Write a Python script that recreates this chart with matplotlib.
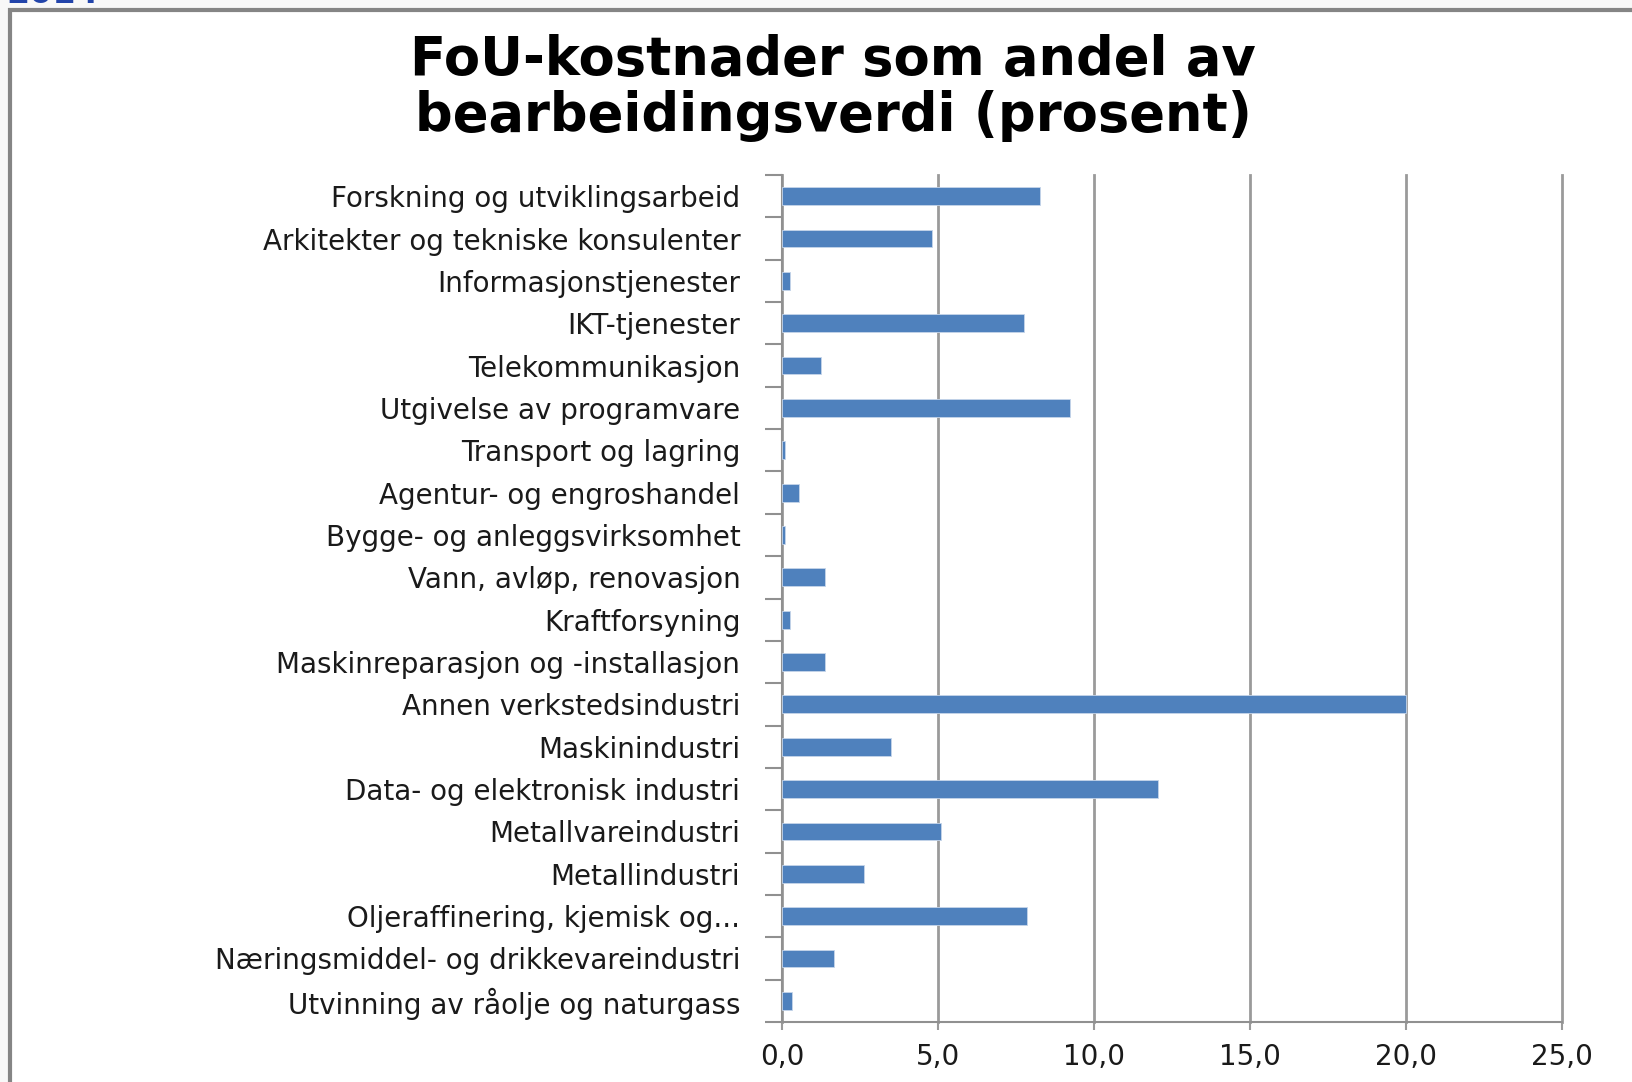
import matplotlib.pyplot as plt
import matplotlib.patches as patches

# categories listed top to bottom as in the chart
categories = [
    "Forskning og utviklingsarbeid",
    "Arkitekter og tekniske konsulenter",
    "Informasjonstjenester",
    "IKT-tjenester",
    "Telekommunikasjon",
    "Utgivelse av programvare",
    "Transport og lagring",
    "Agentur- og engroshandel",
    "Bygge- og anleggsvirksomhet",
    "Vann, avløp, renovasjon",
    "Kraftforsyning",
    "Maskinreparasjon og -installasjon",
    "Annen verkstedsindustri",
    "Maskinindustri",
    "Data- og elektronisk industri",
    "Metallvareindustri",
    "Metallindustri",
    "Oljeraffinering, kjemisk og...",
    "Næringsmiddel- og drikkevareindustri",
    "Utvinning av råolje og naturgass",
]
values = [8.26, 4.82, 0.25, 7.76, 1.24, 9.24, 0.11, 0.54, 0.11, 1.39,
          0.25, 1.39, 20.0, 3.48, 12.05, 5.1, 2.64, 7.84, 1.66, 0.32]
xticks = [0, 5, 10, 15, 20, 25]
xticklabels = ["0,0", "5,0", "10,0", "15,0", "20,0", "25,0"]

fig = plt.figure(figsize=(16.33, 10.82), dpi=100)
fig.patch.set_facecolor("#f8f8f8")

# white chart frame with gray border (extends past right/bottom edge)
frame = patches.Rectangle((10 / 1633, -0.05), 1.1, 1 - 10 / 1082 + 0.05,
                          transform=fig.transFigure, facecolor="white",
                          edgecolor="#858585", linewidth=3, zorder=-5)
fig.patches.append(frame)

# cut-off header text above the frame
fig.text(0.004, 1 - 3 / 1082, "2014", color="#2244aa", fontsize=24,
         fontweight="bold", va="baseline", ha="left")

ax = fig.add_axes([782 / 1633, 1 - 1022 / 1082, 780 / 1633, 847 / 1082])
ax.set_zorder(2)
ax.set_facecolor("white")

n = len(categories)
ypos = list(range(n))
ax.barh(ypos, values, height=0.42, color="#4f81bd", edgecolor="#c6d5ea",
        linewidth=0.6, zorder=3)

ax.set_xlim(0, 25)
ax.set_ylim(n - 0.5, -0.5)
ax.set_xticks(xticks)
ax.set_xticklabels(xticklabels)
ax.xaxis.grid(True, color="#9a9a9a", linewidth=2, zorder=1, clip_on=False)
ax.set_axisbelow(True)

ax.set_yticks(ypos)
ax.set_yticklabels(categories)
ax.tick_params(axis="y", length=0, pad=30, labelsize=20, labelcolor="#1a1a1a")
# category boundary ticks on the y axis
ax.set_yticks([i - 0.5 for i in range(n + 1)], minor=True)
ax.tick_params(axis="y", which="minor", length=12, width=1.5, color="#909090")
ax.tick_params(axis="x", length=6, width=1.5, color="#9a9a9a", pad=9,
               labelsize=20, labelcolor="#1a1a1a")

for side in ["top", "right"]:
    ax.spines[side].set_visible(False)
for side in ["left", "bottom"]:
    ax.spines[side].set_color("#909090")
    ax.spines[side].set_linewidth(1.5)

fig.text(833 / 1633, 1 - 88 / 1082,
         "FoU-kostnader som andel av\nbearbeidingsverdi (prosent)",
         ha="center", va="center", fontsize=38, fontweight="bold",
         linespacing=1.12, color="black")

fig.savefig("out.png", dpi=100, facecolor=fig.get_facecolor())
